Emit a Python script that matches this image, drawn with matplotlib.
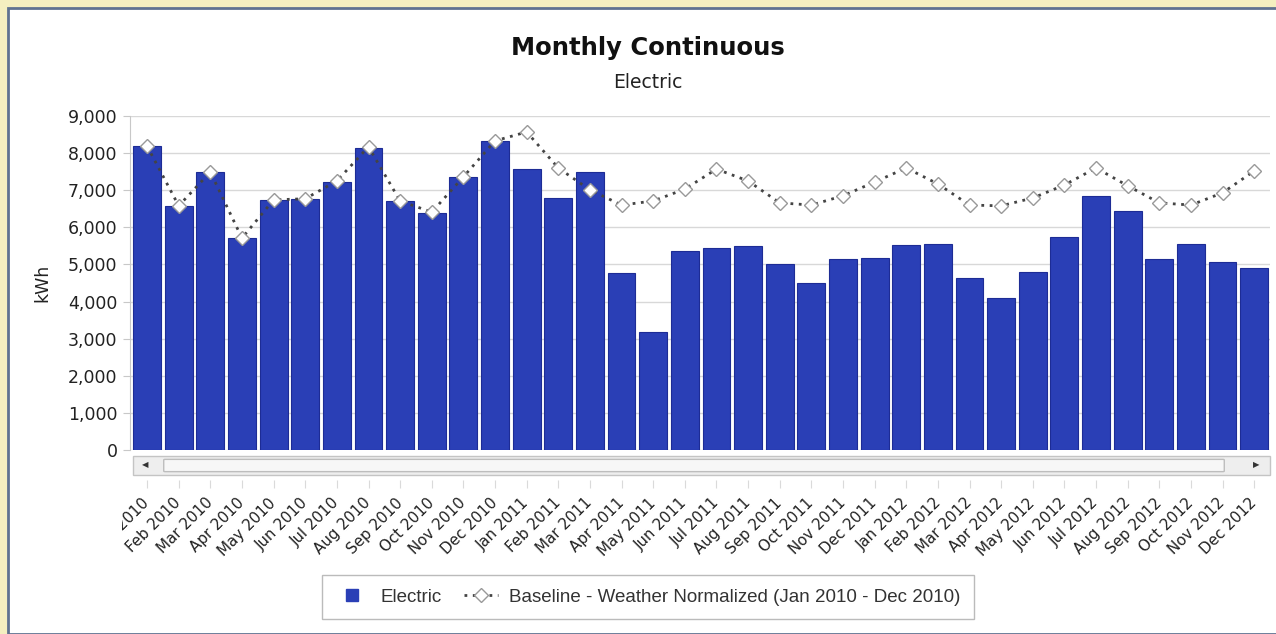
import matplotlib.pyplot as plt
from matplotlib.patches import Rectangle, FancyBboxPatch
from matplotlib.lines import Line2D
from matplotlib.ticker import FuncFormatter

# Data
months = ["Jan 2010", "Feb 2010", "Mar 2010", "Apr 2010", "May 2010", "Jun 2010",
          "Jul 2010", "Aug 2010", "Sep 2010", "Oct 2010", "Nov 2010", "Dec 2010",
          "Jan 2011", "Feb 2011", "Mar 2011", "Apr 2011", "May 2011", "Jun 2011",
          "Jul 2011", "Aug 2011", "Sep 2011", "Oct 2011", "Nov 2011", "Dec 2011",
          "Jan 2012", "Feb 2012", "Mar 2012", "Apr 2012", "May 2012", "Jun 2012",
          "Jul 2012", "Aug 2012", "Sep 2012", "Oct 2012", "Nov 2012", "Dec 2012"]

electric = [8190, 6580, 7490, 5710, 6740, 6770, 7220, 8140, 6710, 6390, 7360, 8330,
            7570, 6790, 7490, 4770, 3180, 5360, 5440, 5490, 5010, 4500, 5150, 5180,
            5530, 5550, 4640, 4100, 4800, 5740, 6850, 6440, 5150, 5550, 5070, 4910]

baseline = [8190, 6580, 7490, 5710, 6740, 6770, 7250, 8170, 6710, 6410, 7360, 8330,
            8570, 7600, 7010, 6600, 6710, 7030, 7570, 7250, 6660, 6600, 6850, 7220,
            7600, 7170, 6600, 6580, 6790, 7140, 7600, 7120, 6660, 6600, 6930, 7520]

W, H = 1276, 634
BLUE = "#2A3FB6"
fig = plt.figure(figsize=(W / 100, H / 100), dpi=100)
fig.patch.set_facecolor("#F4EFC0")

# white panel with slate border
fig.add_artist(Rectangle((8 / W, 0), 1.0, 1 - 8 / H, transform=fig.transFigure,
                         facecolor="white", edgecolor="#5F7290", linewidth=2, zorder=-1))

ax = fig.add_axes([130 / W, 1 - 450 / H, 1140 / W, 334 / H])
ax.set_facecolor("none")

x = list(range(len(months)))
ax.bar(x, electric, width=0.88, color=BLUE, edgecolor="#1D2C95",
       linewidth=0.8, zorder=2)
ax.plot(x, baseline, linestyle=(0, (1, 2)), color="#444444", linewidth=2.0,
        marker="D", markersize=7, markerfacecolor="white", markeredgecolor="#999999",
        markeredgewidth=1.0, zorder=3)

ax.set_xlim(-0.54, 35.5)
ax.set_ylim(0, 9000)
ax.set_yticks(range(0, 9001, 1000))
ax.yaxis.set_major_formatter(FuncFormatter(lambda v, p: f"{int(v):,}"))
ax.grid(axis="y", color="#D8D8D8", linewidth=1, zorder=0)
ax.set_axisbelow(True)

for s in ["top", "right"]:
    ax.spines[s].set_visible(False)
ax.spines["left"].set_color("#C8C8C8")
# x ticks sit below the scrollbar (values in points)
ax.spines["bottom"].set_position(("outward", 21.6))
ax.spines["bottom"].set_visible(False)
ax.tick_params(axis="y", length=5, color="#C8C8C8", labelsize=12.5,
               labelcolor="#222222", pad=4)
ax.tick_params(axis="x", length=5.8, color="#DADADA", pad=9)

ax.set_xticks(x)
ax.set_xticklabels(months, rotation=45, ha="right", va="center",
                   rotation_mode="anchor", fontsize=10.9, color="#222222")

ax.set_ylabel("kWh", fontsize=12.5, color="#222222", labelpad=12)

# the reference cuts the first labels off at the left edge
fig.add_artist(Rectangle((10 / W, 1 - 570 / H), 112 / W, 92 / H, transform=fig.transFigure,
                         facecolor="white", edgecolor="none", zorder=5))

# scrollbar below the plot
fig.add_artist(Rectangle((133 / W, 1 - 475 / H), 1137 / W, 19 / H, transform=fig.transFigure,
                         facecolor="#EEEEEE", edgecolor="#C4C4C4", linewidth=1, zorder=1))
fig.add_artist(FancyBboxPatch((165 / W, 1 - 471 / H), 1058 / W, 11 / H,
                              boxstyle="round,pad=0.001", transform=fig.transFigure,
                              facecolor="#F7F7F7", edgecolor="#BDBDBD", linewidth=1, zorder=2))
fig.text(145 / W, 1 - 465 / H, "◀", fontsize=6, color="#333333", ha="center", va="center")
fig.text(1256 / W, 1 - 465 / H, "▶", fontsize=6, color="#333333", ha="center", va="center")

# titles
fig.text(0.508, 1 - 48 / H, "Monthly Continuous", fontsize=17.5, fontweight="bold",
         ha="center", va="center", color="#111111")
fig.text(0.508, 1 - 83 / H, "Electric", fontsize=13.5, ha="center", va="center",
         color="#222222")

handles = [
    Line2D([], [], linestyle="none", marker="s", markersize=9, color=BLUE),
    Line2D([], [], linestyle=(0, (1, 2)), color="#444444", linewidth=2.0, marker="D",
           markersize=7, markerfacecolor="white", markeredgecolor="#999999"),
]
labels = ["Electric", "Baseline - Weather Normalized (Jan 2010 - Dec 2010)"]
leg = fig.legend(handles, labels, loc="center", bbox_to_anchor=(648 / W, 1 - 597 / H),
                 ncol=2, frameon=True, fancybox=False, edgecolor="#AAAAAA",
                 handlelength=1.8, handletextpad=0.6, columnspacing=1.2, borderpad=0.7,
                 prop={"family": "Liberation Sans", "size": 13.5})
for t in leg.get_texts():
    t.set_color("#333333")

fig.savefig("out.png", dpi=100, facecolor=fig.get_facecolor())
